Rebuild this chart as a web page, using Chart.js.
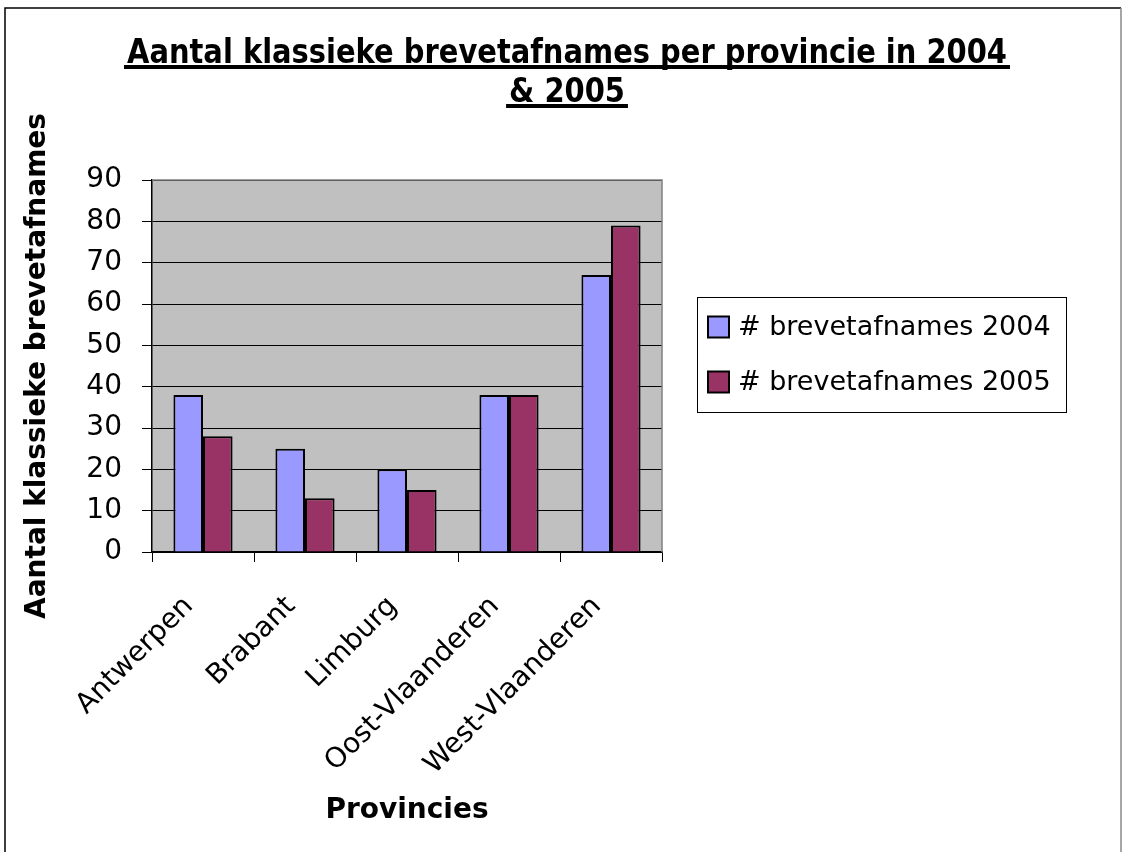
<!DOCTYPE html>
<html>
<head>
<meta charset="utf-8">
<script src="https://cdn.jsdelivr.net/npm/chart.js@4"></script>
<style>
  html, body { margin: 0; padding: 0; background: #fff; }
  #wrap { width: 1122px; height: 852px; }
</style>
</head>
<body>
<div id="wrap"><canvas id="myChart" width="1122" height="852"></canvas></div>
<script>
const provinces = ["Antwerpen", "Brabant", "Limburg", "Oost-Vlaanderen", "West-Vlaanderen"];
const afnames2004 = [38, 25, 20, 38, 67];
const afnames2005 = [28, 13, 15, 38, 79];
const seriesNames = ["# brevetafnames 2004", "# brevetafnames 2005"];
const titleLines = ["Aantal klassieke brevetafnames per provincie in 2004", "& 2005"];

const FONT = "'DejaVu Sans', Verdana, sans-serif";

// white page, outer frame and grey plot background
const backdrop = {
  id: "backdrop",
  beforeDraw(chart) {
    const { ctx, chartArea: a } = chart;
    ctx.save();
    ctx.fillStyle = "#fff";
    ctx.fillRect(0, 0, chart.width, chart.height);
    ctx.fillStyle = "#c0c0c0";
    ctx.fillRect(a.left, a.top, a.right - a.left, a.bottom - a.top);
    ctx.lineWidth = 1.5;
    ctx.strokeStyle = "#000";
    ctx.beginPath();
    ctx.moveTo(5, 860);
    ctx.lineTo(5, 8);
    ctx.lineTo(1121, 8);
    ctx.stroke();
    ctx.strokeStyle = "#888";
    ctx.beginPath();
    ctx.moveTo(1121, 8);
    ctx.lineTo(1121, 860);
    ctx.stroke();
    ctx.restore();
  },
  afterDraw(chart) {
    const { ctx, chartArea: a } = chart;
    ctx.save();
    // top and right edge of plot area
    ctx.strokeStyle = "#808080";
    ctx.lineWidth = 1.5;
    ctx.beginPath();
    ctx.moveTo(a.left, a.top);
    ctx.lineTo(a.right, a.top);
    ctx.lineTo(a.right, a.bottom);
    ctx.stroke();

    // underlined title, squeezed a bit like the original
    ctx.fillStyle = "#000";
    ctx.font = "bold 34px " + FONT;
    ctx.textBaseline = "alphabetic";
    ctx.textAlign = "center";
    const cx = 567;
    const sx = 880 / ctx.measureText(titleLines[0]).width;
    const baselines = [63, 102];
    titleLines.forEach((line, i) => {
      const w = ctx.measureText(line).width * sx;
      ctx.save();
      ctx.translate(cx, baselines[i]);
      ctx.scale(sx, 1);
      ctx.fillText(line, 0, 0);
      ctx.restore();
      ctx.fillRect(cx - w / 2 - 3, baselines[i] + 2, w + 6, 4);
    });

    // legend box
    ctx.strokeStyle = "#000";
    ctx.lineWidth = 1;
    ctx.strokeRect(697.5, 297.5, 369, 115);
    const colors = chart.data.datasets.map(d => d.backgroundColor);
    ctx.font = "27px " + FONT;
    ctx.textAlign = "left";
    ctx.textBaseline = "middle";
    [327, 382].forEach((y, i) => {
      ctx.fillStyle = colors[i];
      ctx.fillRect(708, y - 10.5, 21, 21);
      ctx.lineWidth = 2;
      ctx.strokeRect(708, y - 10.5, 21, 21);
      ctx.fillStyle = "#000";
      ctx.fillText(seriesNames[i], 738, y + 1);
    });
    ctx.restore();
  }
};

const ctx = document.getElementById("myChart").getContext("2d");
const myChart = new Chart(ctx, {
  type: "bar",
  data: {
    labels: provinces,
    datasets: [
      {
        label: seriesNames[0],
        data: afnames2004,
        backgroundColor: "#9999ff",
        borderColor: "#000",
        borderWidth: 2,
      },
      {
        label: seriesNames[1],
        data: afnames2005,
        backgroundColor: "#993366",
        borderColor: "#000",
        borderWidth: 2,
      },
    ],
  },
  options: {
    responsive: false,
    animation: false,
    events: [],
    barPercentage: 1.0,
    categoryPercentage: 0.58,
    layout: {
      padding: { left: 17, top: 180, right: 460, bottom: 20 },
    },
    scales: {
      y: {
        min: 0,
        max: 90,
        afterFit(scale) { scale.width = 135; },
        ticks: {
          stepSize: 10,
          color: "#000",
          padding: 20,
          font: { family: FONT, size: 28 },
        },
        grid: { color: "#000", lineWidth: 1, tickLength: 10, tickColor: "#000" },
        border: { color: "#000", width: 1.5 },
        title: {
          display: true,
          text: "Aantal klassieke brevetafnames",
          color: "#000",
          font: { family: FONT, size: 28, weight: "bold" },
          padding: { top: 4, bottom: 4 },
        },
      },
      x: {
        afterFit(scale) { scale.height = 280; },
        ticks: {
          color: "#000",
          autoSkip: false,
          minRotation: 45,
          maxRotation: 45,
          padding: 28,
          labelOffset: -14,
          font: { family: FONT, size: 28 },
        },
        grid: { offset: true, drawOnChartArea: false, tickLength: 10, color: "#000" },
        border: { color: "#000", width: 1.5 },
        title: {
          display: true,
          text: "Provincies",
          color: "#000",
          font: { family: FONT, size: 28, weight: "bold" },
          padding: { top: 4, bottom: 4 },
        },
      },
    },
    plugins: {
      legend: { display: false },
      tooltip: { enabled: false },
    },
  },
  plugins: [backdrop],
});
</script>
</body>
</html>
